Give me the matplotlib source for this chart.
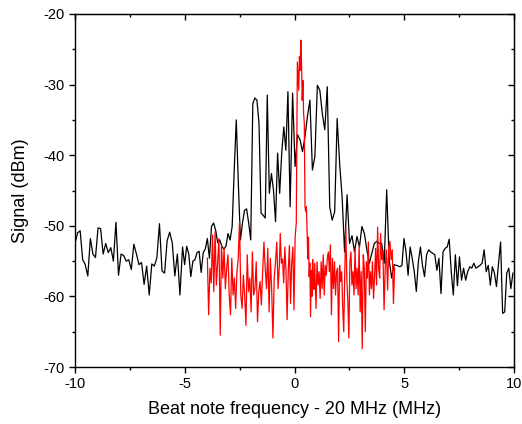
import numpy as np
import matplotlib
matplotlib.use("Agg")
import matplotlib.pyplot as plt
from matplotlib.ticker import MultipleLocator

# black trace (full span), read in four pieces
black_a_span = (-10.0, -5.22)
black_a = [-52.5, -51.0, -50.7, -54.8, -55.5, -57.1, -51.8, -54.0, -54.5, -50.3,
           -50.4, -54.0, -52.5, -53.8, -53.1, -55.0, -49.5, -57.0, -54.0, -54.2,
           -55.0, -54.8, -56.2, -52.6, -54.0, -55.5, -55.2, -58.3, -55.7, -59.8,
           -55.4, -55.7, -54.5, -49.7, -56.4, -56.7, -52.1, -50.9, -52.4, -57.1,
           -54.0, -59.8]
black_b_span = (-5.10, -0.30)
black_b = [-53.0, -55.5, -52.9, -54.0, -57.2, -55.0, -54.8, -53.8, -53.6, -56.6,
           -53.8, -53.3, -51.8, -54.6, -50.1, -49.6, -50.6, -52.4, -52.0, -52.9,
           -53.3, -52.9, -51.1, -52.0, -50.1, -42.1, -35.0, -44.0, -52.0, -49.6,
           -47.8, -47.6, -49.6, -52.0, -32.7, -31.9, -32.2, -35.5, -48.2, -48.5,
           -48.9, -31.5, -45.4, -42.6, -44.9, -49.4, -39.7, -45.4, -39.7, -36.0,
           -39.3, -31.0]
black_c_span = (-0.20, 4.65)
black_c = [-47.3, -31.2, -41.6, -37.1, -37.8, -39.5, -37.4, -34.5, -32.2, -42.1,
           -40.2, -30.1, -30.8, -34.1, -36.4, -30.3, -47.3, -49.2, -48.0, -34.8,
           -41.2, -45.9, -53.7, -45.6, -52.5, -51.4, -53.7, -51.5, -53.0, -50.1,
           -51.1, -53.4, -55.3, -53.9, -52.5, -52.2, -52.5, -52.5, -55.3, -44.9,
           -54.8, -57.4, -55.5, -55.6]
black_d_span = (4.80, 9.95)
black_d = [-55.8, -55.6, -51.8, -53.7, -57.0, -53.0, -54.6, -56.5, -59.3, -55.1,
           -53.0, -55.6, -57.2, -54.1, -53.4, -53.7, -53.9, -54.1, -56.3, -54.6,
           -59.6, -53.7, -53.2, -53.0, -51.9, -56.5, -59.8, -54.1, -58.5, -54.4,
           -57.7, -56.0, -57.7, -56.5, -55.8, -56.0, -55.3, -56.0, -55.8, -55.6,
           -55.3, -53.4, -56.5, -55.6, -58.4, -55.8, -56.7, -58.6, -55.3, -52.3,
           -62.4, -62.2, -56.7, -56.0, -58.9, -56.7]

# red trace (-4 .. 4.5)
red_a_span = (-3.97, -0.69)
red_a = [-54.6, -62.6, -56.0, -58.1, -51.3, -59.3, -50.8, -58.4, -55.1, -51.8,
         -65.5, -52.7, -57.4, -53.2, -58.9, -56.0, -54.1, -59.8, -62.6, -54.6,
         -59.8, -57.4, -61.7, -56.5, -54.6, -49.4, -59.8, -61.7, -57.0, -59.8,
         -64.1, -54.1, -59.3, -57.4, -62.2, -53.7, -59.8, -58.9, -55.1, -63.6,
         -59.3, -57.9, -61.2, -56.5, -52.3, -56.0, -58.9, -53.2, -62.2, -54.6,
         -58.9, -65.9, -57.4, -55.1, -52.3, -58.9, -55.6]
red_b_span = (-0.65, 0.08)
red_b = [-51.1, -55.3, -54.7, -58.1, -53.0, -56.3, -63.3, -56.3, -52.8, -61.0,
         -55.3, -53.0, -61.9, -51.6, -49.6]
red_c_span = (0.13, 0.92)
red_c = [-26.8, -28.9, -30.8, -26.0, -28.0, -23.7, -27.0, -32.2, -29.4, -34.1,
         -35.5, -47.3, -48.0, -47.3, -50.6, -54.7, -51.6, -57.2, -55.3, -62.9,
         -56.3, -60.0, -54.8, -57.2, -59.0, -55.3]
red_d_span = (0.98, 3.88)
red_d = [-61.7, -55.1, -58.4, -56.5, -60.3, -55.1, -58.9, -54.1, -59.8, -55.6,
         -57.0, -54.6, -53.7, -56.5, -52.7, -62.6, -54.6, -58.9, -55.1, -59.8,
         -56.5, -56.0, -66.4, -55.6, -57.9, -56.5, -61.7, -65.0, -56.5, -50.3,
         -57.4, -60.7, -65.9, -55.1, -53.7, -58.4, -56.5, -59.8, -53.2, -58.9,
         -56.0, -59.8, -52.7, -62.2, -56.5, -67.4, -54.1, -56.0, -65.0, -55.1,
         -57.4, -52.3, -59.8, -56.5, -58.9, -55.1, -60.3, -57.4, -53.2, -58.4,
         -50.2, -56.0, -57.4]
red_e_span = (3.92, 4.56)
red_e = [-51.1, -54.8, -53.4, -61.9, -55.8, -53.4, -59.1, -53.0, -52.2, -54.8,
         -53.4, -61.0, -56.0]


def join(pieces):
    xs, ys = [], []
    for span, vals in pieces:
        xs.append(np.linspace(span[0], span[1], len(vals)))
        ys.append(np.array(vals))
    return np.concatenate(xs), np.concatenate(ys)


bx, by = join([(black_a_span, black_a), (black_b_span, black_b),
               (black_c_span, black_c), (black_d_span, black_d)])
rx, ry = join([(red_a_span, red_a), (red_b_span, red_b), (red_c_span, red_c),
               (red_d_span, red_d), (red_e_span, red_e)])

plt.rcParams['font.family'] = ['Liberation Sans', 'DejaVu Sans']
plt.rcParams['axes.unicode_minus'] = False

fig = plt.figure(figsize=(5.22, 4.24), dpi=100)
ax = fig.add_axes([0.1437, 0.1344, 0.841, 0.8326])

ax.plot(bx, by, color='black', lw=0.9)
ax.plot(rx, ry, color='red', lw=0.9)

ax.set_xlim(-10, 10)
ax.set_ylim(-70, -20)
ax.xaxis.set_major_locator(MultipleLocator(5))
ax.xaxis.set_minor_locator(MultipleLocator(2.5))
ax.yaxis.set_major_locator(MultipleLocator(10))
ax.yaxis.set_minor_locator(MultipleLocator(5))

for s in ax.spines.values():
    s.set_linewidth(1.0)
ax.tick_params(which='both', direction='out', top=False, right=False,
               labelsize=10.5, width=1.0)
ax.tick_params(which='major', length=4.5, pad=3)
ax.tick_params(which='minor', length=2.5)

# inward ticks on top and right
sec_x = ax.secondary_xaxis('top')
sec_x.xaxis.set_major_locator(MultipleLocator(5))
sec_x.xaxis.set_minor_locator(MultipleLocator(2.5))
sec_x.tick_params(which='both', direction='in', labeltop=False, width=1.0)
sec_x.tick_params(which='major', length=4.5)
sec_x.tick_params(which='minor', length=2.5)
sec_y = ax.secondary_yaxis('right')
sec_y.yaxis.set_major_locator(MultipleLocator(10))
sec_y.yaxis.set_minor_locator(MultipleLocator(5))
sec_y.tick_params(which='both', direction='in', labelright=False, width=1.0)
sec_y.tick_params(which='major', length=4.5)
sec_y.tick_params(which='minor', length=2.5)

ax.set_xlabel('Beat note frequency - 20 MHz (MHz)', fontsize=13, labelpad=7)
ax.set_ylabel('Signal (dBm)', fontsize=13, labelpad=10)

fig.savefig('out.png', dpi=100)
